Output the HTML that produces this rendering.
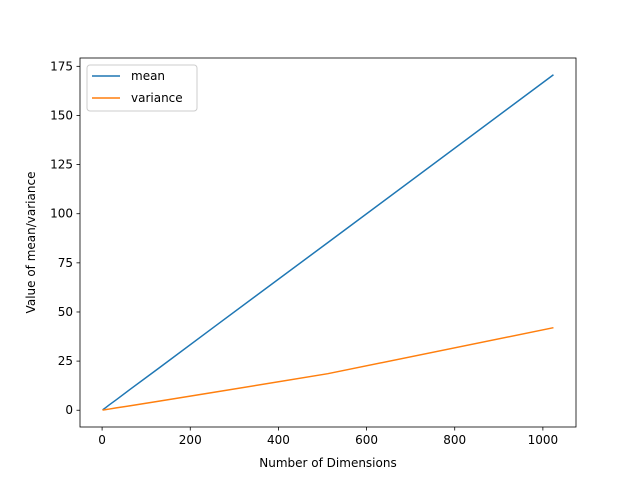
<!DOCTYPE html>
<html><head><meta charset="utf-8"><style>
body{margin:0;background:#fff;font-family:"Liberation Sans","DejaVu Sans",sans-serif}
svg text{font-family:"DejaVu Sans","Liberation Sans",sans-serif;font-size:12px;fill:#000}
</style></head><body>
<svg id="chart" width="640" height="480">
<rect width="640" height="480" fill="#fff"/>
<g id="plot"></g>
</svg>
<script>
const dims=[1,2,4,8,16,32,64,128,256,512,1024];
const meanVals=[0.17,0.33,0.67,1.3,2.7,5.3,10.7,21.3,42.7,85.3,170.7];
const varVals=[0.05,0.1,0.15,0.3,0.6,1.2,2.3,4.6,9.2,18.6,42];
const xTicks=[0,200,400,600,800,1000];
const yTicks=[0,25,50,75,100,125,150,175];
const L=80,R=576,T=58,B=427;
const xmin=-50.15,xmax=1075.15,ymin=-8.53,ymax=179.24;
const X=v=>L+(v-xmin)/(xmax-xmin)*(R-L);
const Y=v=>B-(v-ymin)/(ymax-ymin)*(B-T);
const ns="http://www.w3.org/2000/svg";
const g=document.getElementById('plot');
function mk(t,a,txt){const e=document.createElementNS(ns,t);for(const k in a)e.setAttribute(k,a[k]);if(txt!==undefined)e.textContent=txt;g.appendChild(e);return e;}
function line(vals,color,name){
 const p=mk('polyline',{points:dims.map((d,i)=>X(d)+','+Y(vals[i])).join(' '),fill:'none',stroke:color,'stroke-width':1.5});
 
 
}
line(meanVals,'#1f77b4','mean-line');
line(varVals,'#ff7f0e','variance-line');
const fr=mk('rect',{x:L,y:T,width:R-L,height:B-T,fill:'none',stroke:'#000','stroke-width':0.8});


xTicks.forEach(v=>{
 mk('line',{x1:X(v),x2:X(v),y1:B,y2:B+3.5,stroke:'#000','stroke-width':0.8});
 const t=mk('text',{x:X(v),y:B+17,'text-anchor':'middle'},v);
 
 
});
yTicks.forEach(v=>{
 mk('line',{x1:L-3.5,x2:L,y1:Y(v),y2:Y(v),stroke:'#000','stroke-width':0.8});
 const t=mk('text',{x:L-7,y:Y(v)+4,'text-anchor':'end'},v);
 
 
});
const xt=mk('text',{x:(L+R)/2,y:467,'text-anchor':'middle'},'Number of Dimensions');


const yt=mk('text',{x:0,y:0,'text-anchor':'middle',transform:`translate(35,${(T+B)/2}) rotate(-90)`},'Value of mean/variance');


const lg=mk('rect',{x:87,y:65,width:110,height:46,rx:3,fill:'#fff',stroke:'#ccc','stroke-width':1});


[['mean','#1f77b4',76],['variance','#ff7f0e',98]].forEach(([n,c,y])=>{
 mk('line',{x1:92,x2:120,y1:y,y2:y,stroke:c,'stroke-width':1.5});
 const t=mk('text',{x:131,y:y+4},n);
 
 
});
</script>
</body></html>
